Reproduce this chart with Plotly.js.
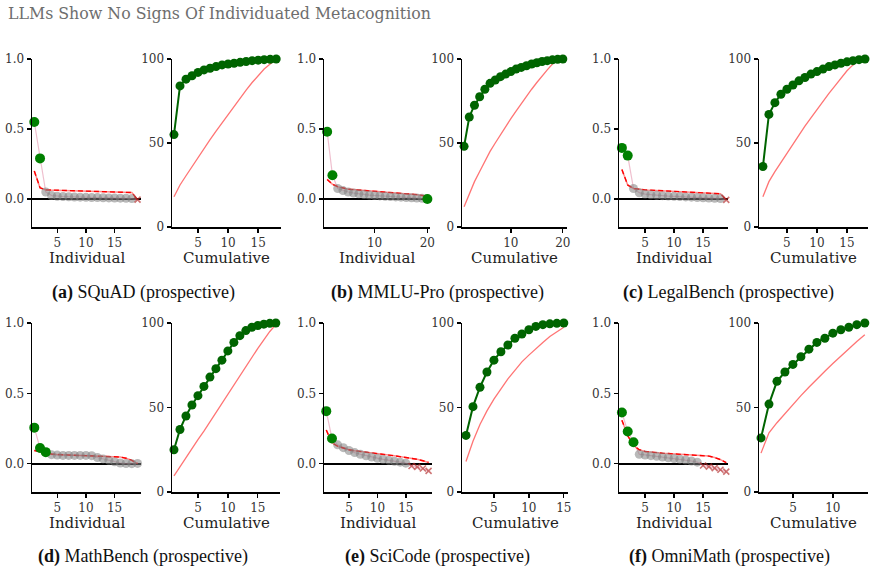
<!DOCTYPE html>
<html>
<head>
<meta charset="utf-8">
<script src="https://cdn.plot.ly/plotly-3.0.1.min.js"></script>
<style>
  html, body { margin: 0; padding: 0; background: #fff; }
  #chart { width: 876px; height: 573px; }
</style>
</head>
<body>
<div id="chart"></div>
<script>
// ---- per-model scores, ranked (Individual) and running share in % (Cumulative) ----
// green = significant ranks, grey = the rest, negative values drawn as crosses

// (a) SQuAD
const indSQuAD     = [0.55, 0.29, 0.05, 0.025, 0.02, 0.018, 0.016, 0.014, 0.013, 0.012, 0.011, 0.010, 0.009, 0.008, 0.007, 0.006, 0.005, 0.003, -0.004];
const sigSQuAD     = [1, 2];
const nullIndSQuAD = [0.20, 0.08, 0.065, 0.064, 0.063, 0.062, 0.061, 0.060, 0.059, 0.058, 0.057, 0.056, 0.055, 0.054, 0.053, 0.051, 0.049, 0.046, -0.005];
const cumSQuAD     = [55, 84, 88, 90, 92, 93.5, 94.5, 95.5, 96.5, 97, 97.5, 98, 98.5, 99, 99.3, 99.6, 99.8, 100];
const nullCumSQuAD = [18, 25, 30.5, 36, 41.5, 47, 52, 57, 62, 67, 72, 77, 81.5, 86, 90, 94, 97, 100];

// (b) MMLU-Pro
const indMMLU      = [0.48, 0.17, 0.075, 0.06, 0.05, 0.043, 0.037, 0.032, 0.028, 0.025, 0.022, 0.019, 0.017, 0.015, 0.013, 0.011, 0.009, 0.007, 0.005, 0.0];
const sigMMLU      = [1, 2, 20];
const nullIndMMLU  = [0.14, 0.105, 0.088, 0.078, 0.070, 0.067, 0.064, 0.061, 0.058, 0.056, 0.054, 0.052, 0.050, 0.047, 0.044, 0.040, 0.036, 0.031, 0.025, 0.018];
const cumMMLU      = [48, 65.5, 72.5, 77.5, 82, 85.5, 87.5, 89.5, 91, 92.5, 94, 95, 96, 97, 97.8, 98.5, 99, 99.5, 99.8, 100];
const nullCumMMLU  = [12, 20, 27, 33, 39, 45, 50, 55, 60, 64.5, 69, 73.5, 78, 82, 86, 90, 93.5, 97, 99.5, 100];

// (c) LegalBench
const indLegal     = [0.365, 0.31, 0.075, 0.045, 0.035, 0.03, 0.027, 0.024, 0.021, 0.019, 0.017, 0.015, 0.013, 0.011, 0.009, 0.007, 0.005, 0.003, -0.006];
const sigLegal     = [1, 2];
const nullIndLegal = [0.21, 0.10, 0.075, 0.068, 0.065, 0.063, 0.061, 0.059, 0.057, 0.055, 0.053, 0.051, 0.049, 0.047, 0.045, 0.043, 0.041, 0.037, -0.005];
const cumLegal     = [36, 67, 74, 79, 82, 84.5, 87, 89, 91, 92.5, 94, 95.5, 96.5, 97.5, 98.3, 99, 99.6, 100];
const nullCumLegal = [18, 27, 33, 38.5, 44, 49.5, 55, 60, 65, 70, 75, 79.5, 84, 88.5, 93, 96.5, 99.5, 100];

// (d) MathBench
const indMath      = [0.257, 0.113, 0.083, 0.065, 0.062, 0.06, 0.06, 0.06, 0.06, 0.06, 0.058, 0.045, 0.035, 0.025, 0.015, 0.006, 0.002, 0.001, 0.003];
const sigMath      = [1, 2, 3];
const nullIndMath  = [0.095, 0.085, 0.077, 0.070, 0.066, 0.063, 0.061, 0.060, 0.059, 0.058, 0.057, 0.056, 0.055, 0.054, 0.052, 0.048, 0.040, 0.025, 0.002];
const cumMath      = [25, 37, 45, 51.5, 57, 62.5, 68, 73, 78, 83.5, 88.5, 92.5, 95.5, 97.5, 98.5, 99.3, 99.8, 100];
const nullCumMath  = [9.5, 15, 20, 25.5, 31, 36, 41.5, 47, 52, 57.5, 63, 68.5, 74, 79.5, 85, 90, 95, 99];

// (e) SciCode
const indSci       = [0.374, 0.18, 0.135, 0.115, 0.095, 0.08, 0.068, 0.057, 0.048, 0.04, 0.032, 0.025, 0.018, 0.012, 0.005, -0.015, -0.022, -0.033, -0.05];
const sigSci       = [1, 2];
const nullIndSci   = [0.24, 0.15, 0.125, 0.11, 0.10, 0.093, 0.087, 0.082, 0.077, 0.072, 0.067, 0.062, 0.057, 0.052, 0.046, 0.040, 0.032, 0.022, 0.010];
const cumSci       = [33.5, 50.5, 62, 71, 78, 83, 87, 91, 93.5, 96, 98, 99, 99.5, 99.8, 100];
const nullCumSci   = [18, 30, 40, 48, 55, 61, 67, 72, 77, 81, 85, 88.5, 92, 95, 97.5];

// (f) OmniMath
const indOmni      = [0.365, 0.23, 0.153, 0.068, 0.063, 0.058, 0.053, 0.048, 0.043, 0.038, 0.033, 0.027, 0.02, 0.012, -0.012, -0.02, -0.03, -0.042, -0.055];
const sigOmni      = [1, 2, 3];
const nullIndOmni  = [0.31, 0.20, 0.13, 0.10, 0.088, 0.082, 0.078, 0.075, 0.073, 0.071, 0.069, 0.067, 0.065, 0.063, 0.060, 0.055, 0.045, 0.030, 0.008];
const cumOmni      = [32, 52, 65.5, 71, 75.5, 80, 84.5, 88.5, 91, 94, 96, 97.5, 99, 100];
const nullCumOmni  = [23, 35, 41, 46.5, 52, 57, 62, 67, 71.5, 76, 80.5, 85, 89, 93];

const captionTags  = ['(a)', '(b)', '(c)', '(d)', '(e)', '(f)'];
const captionNames = ['SQuAD (prospective)', 'MMLU-Pro (prospective)', 'LegalBench (prospective)',
                      'MathBench (prospective)', 'SciCode (prospective)', 'OmniMath (prospective)'];
const indTicks = [[5, 10, 15], [10, 20], [5, 10, 15], [5, 10, 15], [5, 10, 15], [5, 10, 15]];
const cumTicks = [[5, 10, 15], [10, 20], [5, 10, 15], [5, 10, 15], [5, 10, 15], [5, 10]];

const series = [
  [indSQuAD, sigSQuAD, nullIndSQuAD, cumSQuAD, nullCumSQuAD],
  [indMMLU,  sigMMLU,  nullIndMMLU,  cumMMLU,  nullCumMMLU],
  [indLegal, sigLegal, nullIndLegal, cumLegal, nullCumLegal],
  [indMath,  sigMath,  nullIndMath,  cumMath,  nullCumMath],
  [indSci,   sigSci,   nullIndSci,   cumSci,   nullCumSci],
  [indOmni,  sigOmni,  nullIndOmni,  cumOmni,  nullCumOmni]
];

// ---- geometry (pixels in an 876 x 573 canvas) ----
const W = 876, H = 573;
const fx = p => p / W;
const fy = p => 1 - p / H;

const rows = [
  { top: 59,  bottom: 227, xtitle: 258, caption: 292 },
  { top: 323, bottom: 492, xtitle: 523, caption: 556 }
];
// [indLeft, indRight, cumLeft, cumRight, indRange, cumRange, captionCenter]
const boxes = [
  [32, 141, 172, 281, [0.6, 19.6], [0.67, 18.8], 143],
  [324, 430, 462, 567, [0.4, 20.5], [0.6, 20.8], 437],
  [619, 728, 759, 868, [0.5, 19.3], [0.35, 18.5], 728],
  [32, 141, 172, 280, [0.6, 19.6], [0.67, 18.7], 143],
  [324, 432, 462, 568, [0.6, 19.6], [0.43, 15.6], 437],
  [619, 728, 759, 868, [0.5, 19.3], [0.75, 14.4], 729]
];

const tickFont  = { family: 'DejaVu Serif', size: 12, color: '#333' };
const titleFont = { family: 'DejaVu Serif', size: 15, color: '#222' };

const traces = [];
const layout = {
  width: W, height: H,
  margin: { l: 0, r: 0, t: 0, b: 0 },
  paper_bgcolor: '#fff', plot_bgcolor: '#fff',
  showlegend: false,
  annotations: []
};

function axisBase(extra) {
  return Object.assign({
    showgrid: false, zeroline: false,
    showline: true, linecolor: '#000', linewidth: 1.5,
    ticks: 'outside', ticklen: 4, tickwidth: 1.3, tickcolor: '#000',
    tickfont: tickFont, fixedrange: true
  }, extra);
}

series.forEach((s, p) => {
  const [ind, sig, nullInd, cum, nullCum] = s;
  const [il, ir, cl, cr, iRange, cRange, capX] = boxes[p];
  const row = rows[p < 3 ? 0 : 1];
  const yDom = [fy(row.bottom), fy(row.top)];
  const ai = 2 * p + 1, ac = 2 * p + 2;
  const xi = 'x' + ai, yi = 'y' + ai, xc = 'x' + ac, yc = 'y' + ac;

  const ranks = ind.map((_, i) => i + 1);
  const isSig = r => sig.indexOf(r) >= 0;

  // Individual panel: connecting line, null curve (solid + dashed), then markers
  traces.push({ x: ranks, y: ind, xaxis: xi, yaxis: yi, mode: 'lines',
    line: { color: 'rgba(219,112,147,0.45)', width: 1.2 } });
  traces.push({ x: ranks, y: nullInd, xaxis: xi, yaxis: yi, mode: 'lines',
    line: { color: 'rgba(255,0,0,0.45)', width: 1.5 } });
  traces.push({ x: ranks, y: nullInd, xaxis: xi, yaxis: yi, mode: 'lines',
    line: { color: 'rgb(255,0,0)', width: 1.4, dash: '5px,3px' } });

  const gx = [], gy = [], nx = [], ny = [], sx = [], sy = [];
  ranks.forEach((r, i) => {
    if (isSig(r)) { sx.push(r); sy.push(ind[i]); }
    else if (ind[i] < 0) { nx.push(r); ny.push(ind[i]); }
    else { gx.push(r); gy.push(ind[i]); }
  });
  traces.push({ x: gx, y: gy, xaxis: xi, yaxis: yi, mode: 'markers', cliponaxis: false,
    marker: { color: 'rgba(128,128,128,0.55)', size: 9 } });
  traces.push({ x: nx, y: ny, xaxis: xi, yaxis: yi, mode: 'markers', cliponaxis: false,
    marker: { symbol: 'x-thin', size: 6, line: { color: 'rgba(178,40,40,0.65)', width: 1.6 } } });
  traces.push({ x: sx, y: sy, xaxis: xi, yaxis: yi, mode: 'markers', cliponaxis: false,
    marker: { color: '#008000', size: 10 } });

  // Cumulative panel
  traces.push({ x: nullCum.map((_, i) => i + 1), y: nullCum, xaxis: xc, yaxis: yc, mode: 'lines',
    line: { color: 'rgba(255,70,70,0.75)', width: 1.3 } });
  traces.push({ x: cum.map((_, i) => i + 1), y: cum, xaxis: xc, yaxis: yc, mode: 'lines+markers',
    cliponaxis: false, line: { color: '#006400', width: 2 }, marker: { color: '#006400', size: 9 } });

  layout['xaxis' + ai] = axisBase({ domain: [fx(il), fx(ir)], anchor: yi, range: iRange,
    tickvals: indTicks[p] });
  layout['yaxis' + ai] = axisBase({ domain: yDom, anchor: xi, range: [-0.2, 1.0],
    tickvals: [0, 0.5, 1], ticktext: ['0.0', '0.5', '1.0'],
    zeroline: true, zerolinecolor: '#000', zerolinewidth: 1.6 });
  layout['xaxis' + ac] = axisBase({ domain: [fx(cl), fx(cr)], anchor: yc, range: cRange,
    tickvals: cumTicks[p] });
  layout['yaxis' + ac] = axisBase({ domain: yDom, anchor: xc, range: [0, 100],
    tickvals: [0, 50, 100] });

  layout.annotations.push(
    { text: 'Individual', xref: 'paper', yref: 'paper', x: fx((il + ir) / 2), y: fy(row.xtitle),
      xanchor: 'center', yanchor: 'middle', showarrow: false, font: titleFont },
    { text: 'Cumulative', xref: 'paper', yref: 'paper', x: fx((cl + cr) / 2), y: fy(row.xtitle),
      xanchor: 'center', yanchor: 'middle', showarrow: false, font: titleFont },
    { text: '<b>' + captionTags[p] + '</b> ' + captionNames[p], xref: 'paper', yref: 'paper',
      x: fx(capX), y: fy(row.caption), xanchor: 'center', yanchor: 'middle', showarrow: false,
      font: { family: 'Liberation Serif', size: 18, color: '#111' } }
  );
});

layout.annotations.push({
  text: 'LLMs Show No Signs Of Individuated Metacognition', xref: 'paper', yref: 'paper',
  x: fx(6), y: fy(14), xanchor: 'left', yanchor: 'middle', showarrow: false,
  font: { family: 'DejaVu Serif', size: 15.8, color: '#6e6e6e' }
});

traces.forEach(t => { t.hoverinfo = 'skip'; });

Plotly.newPlot('chart', traces, layout, { displayModeBar: false, staticPlot: true });
</script>
</body>
</html>
